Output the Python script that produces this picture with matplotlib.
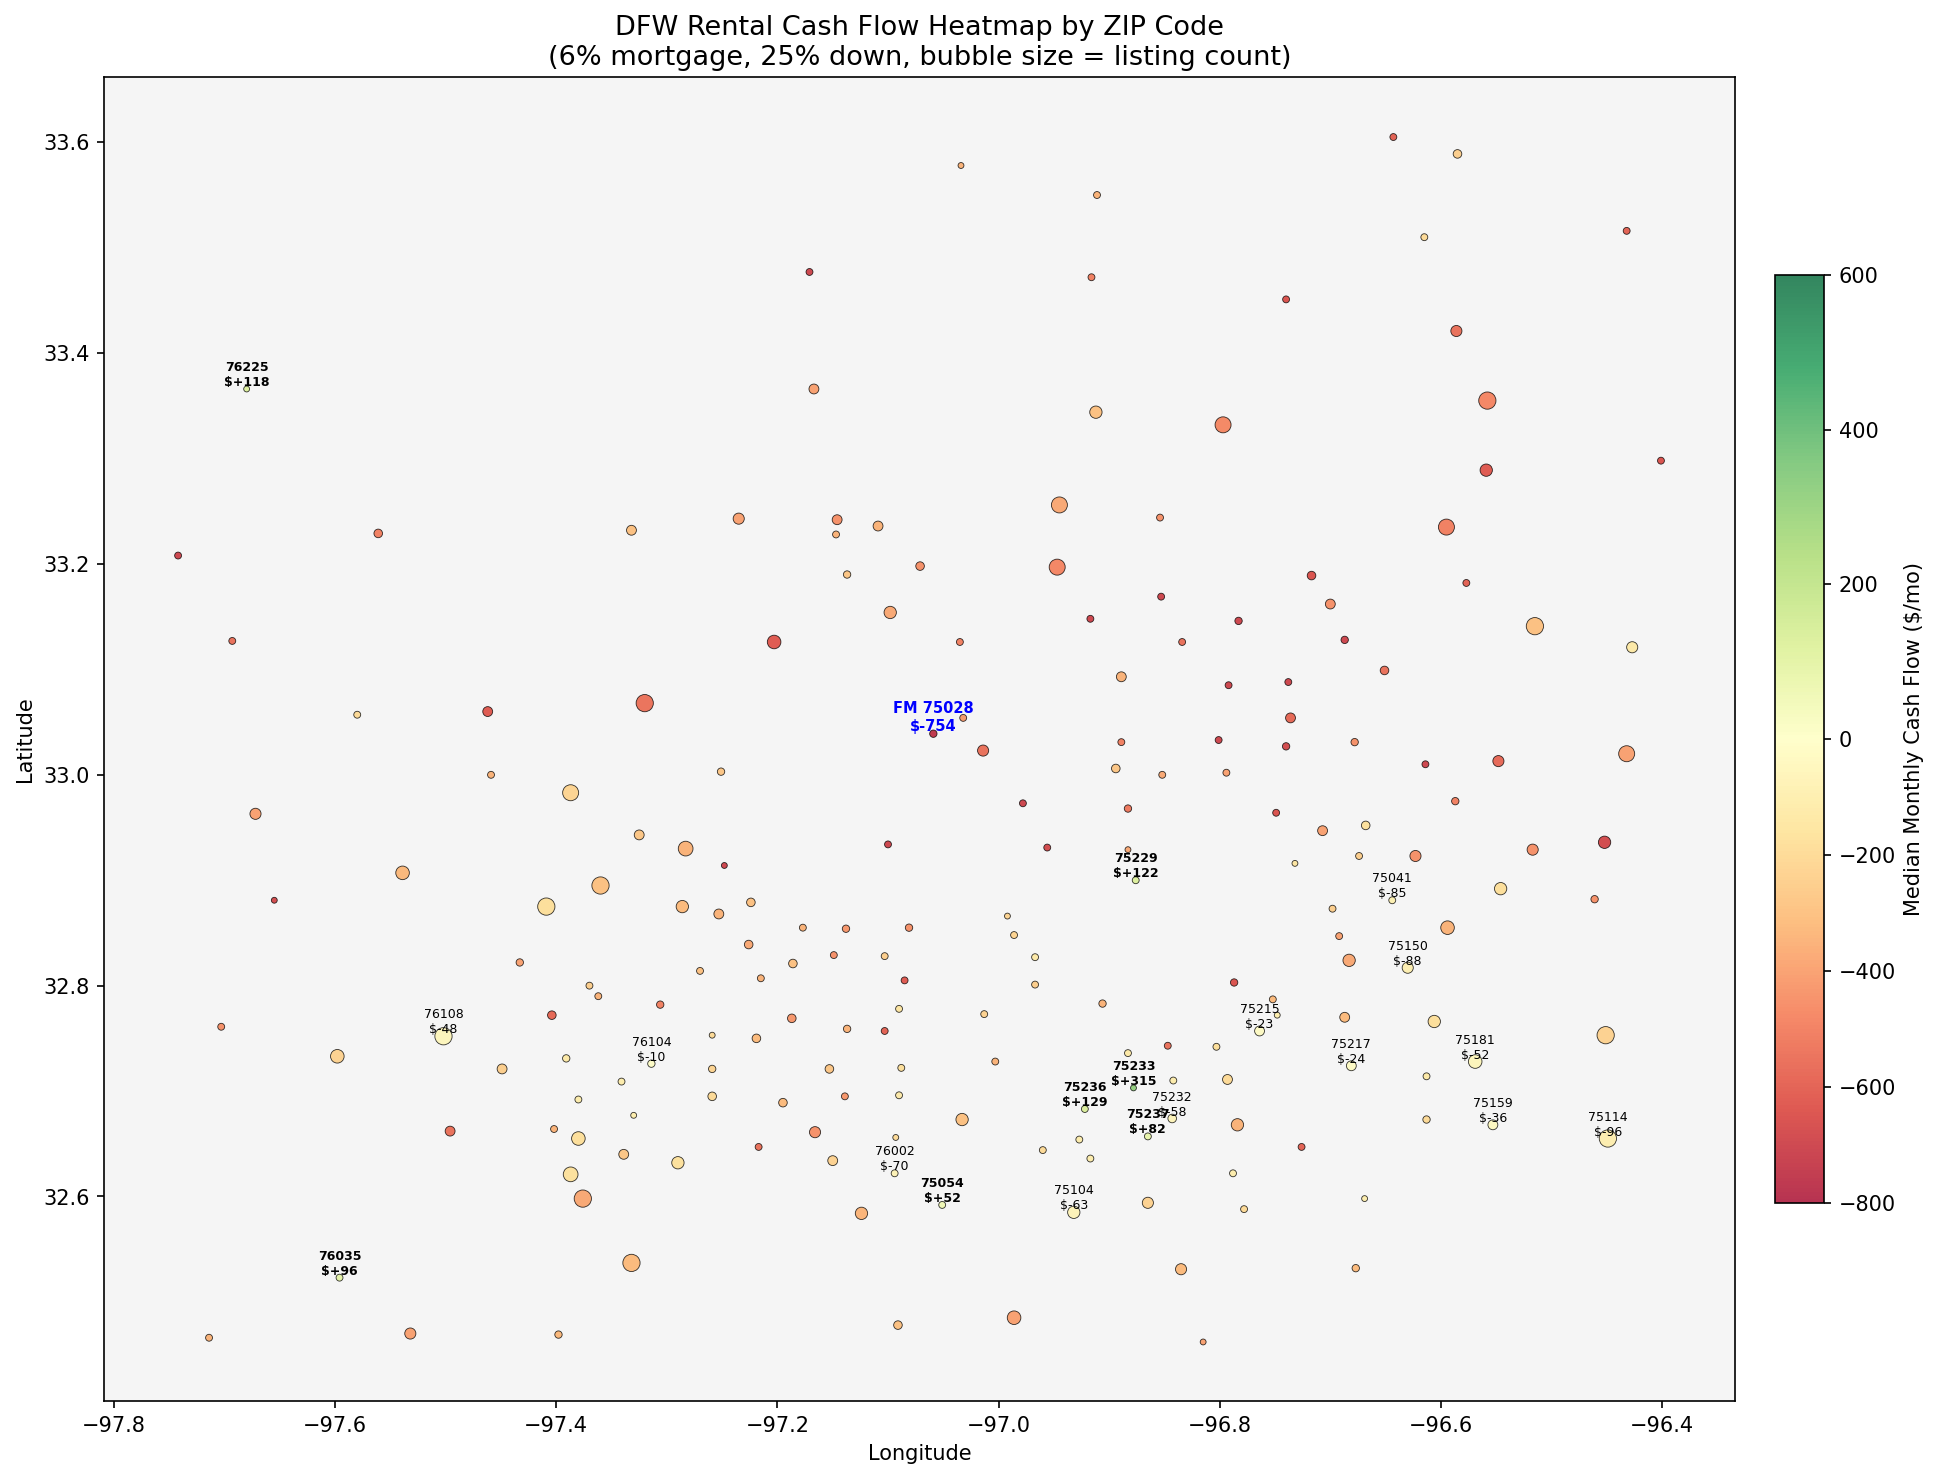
import matplotlib
matplotlib.use('Agg')
import matplotlib.pyplot as plt
from matplotlib.colors import TwoSlopeNorm

# values
lon = [-96.643,-96.585,-97.034,-96.911,-96.615,-96.432,-97.171,-96.916,-96.740,-96.586,
       -97.680,-97.167,-96.558,-96.912,-96.797,-96.401,-96.559,-96.945,-97.235,-97.146,
       -97.109,-96.854,-96.595,-97.561,-97.332,-97.147,-97.742,-97.071,-96.947,-97.137,
       -96.717,-96.577,-96.700,-96.853,-96.917,-97.098,-96.783,-96.515,-97.693,-97.203,
       -97.035,-96.834,-96.687,-96.427,-96.651,-96.889,-96.792,-96.738,-97.580,-97.462,
       -97.320,-96.736,-97.032,-97.059,-97.014,-96.740,-96.801,-96.889,-96.678,-96.548,
       -96.614,-96.432,-97.459,-97.251,-96.894,-96.852,-96.794,-97.387,-96.978,-96.587,
       -96.883,-96.749,-97.672,-96.668,-96.707,-97.325,-96.956,-96.883,-96.517,-96.452,
       -97.283,-97.100,-96.623,-96.674,-96.732,-97.248,-97.655,-97.539,-97.360,-96.876,
       -96.546,-96.461,-96.644,-97.409,-97.286,-97.224,-96.698,-97.253,-96.992,-96.594,
       -97.177,-97.138,-97.081,-96.986,-96.692,-97.226,-97.149,-97.103,-97.186,-96.967,
       -97.433,-96.683,-96.630,-97.270,-97.215,-97.085,-96.967,-96.787,-97.370,-97.362,
       -96.752,-97.306,-96.906,-97.090,-97.404,-97.013,-96.687,-97.187,-96.748,-96.606,
       -97.703,-97.502,-96.764,-96.451,-97.137,-97.103,-97.259,-97.219,-96.847,-96.803,
       -96.883,-97.598,-97.391,-97.003,-97.314,-96.681,-96.569,-97.088,-97.259,-97.153,
       -97.449,-96.613,-96.842,-96.793,-97.341,-96.878,-97.139,-97.259,-97.195,-97.380,
       -97.090,-96.922,-96.553,-97.330,-96.613,-97.033,-96.784,-96.843,-96.865,-97.496,
       -97.402,-97.380,-97.166,-97.093,-96.449,-96.927,-96.726,-97.217,-96.960,-96.917,
       -97.339,-97.150,-97.290,-97.387,-97.094,-96.788,-97.376,-96.669,-97.051,-96.865,
       -96.778,-96.932,-97.124,-97.596,-97.332,-96.835,-96.677,-96.986,-97.091,-97.532,
       -97.398,-97.714,-96.815]
lat = [33.605,33.589,33.578,33.550,33.510,33.516,33.477,33.472,33.451,33.421,
       33.366,33.366,33.355,33.344,33.332,33.298,33.289,33.256,33.243,33.242,
       33.236,33.244,33.235,33.229,33.232,33.228,33.208,33.198,33.197,33.190,
       33.189,33.182,33.162,33.169,33.148,33.154,33.146,33.141,33.127,33.126,
       33.126,33.126,33.128,33.121,33.099,33.093,33.085,33.088,33.057,33.060,
       33.068,33.054,33.054,33.039,33.023,33.027,33.033,33.031,33.031,33.013,
       33.010,33.020,33.000,33.003,33.006,33.000,33.002,32.983,32.973,32.975,
       32.968,32.964,32.963,32.952,32.947,32.943,32.931,32.929,32.929,32.936,
       32.930,32.934,32.923,32.923,32.916,32.914,32.881,32.907,32.895,32.900,
       32.892,32.882,32.881,32.875,32.875,32.879,32.873,32.868,32.866,32.855,
       32.855,32.854,32.855,32.848,32.847,32.839,32.829,32.828,32.821,32.827,
       32.822,32.824,32.817,32.814,32.807,32.805,32.801,32.803,32.800,32.790,
       32.787,32.782,32.783,32.778,32.772,32.773,32.770,32.769,32.772,32.766,
       32.761,32.752,32.757,32.753,32.759,32.757,32.753,32.750,32.743,32.742,
       32.736,32.733,32.731,32.728,32.726,32.724,32.728,32.722,32.721,32.721,
       32.721,32.714,32.710,32.711,32.709,32.703,32.695,32.695,32.689,32.692,
       32.696,32.683,32.668,32.677,32.673,32.673,32.668,32.674,32.657,32.662,
       32.664,32.655,32.661,32.656,32.655,32.654,32.647,32.647,32.644,32.636,
       32.640,32.634,32.632,32.621,32.622,32.622,32.598,32.598,32.592,32.594,
       32.588,32.585,32.584,32.523,32.537,32.531,32.532,32.485,32.478,32.470,
       32.469,32.466,32.462]
cash = [-600,-250,-350,-350,-200,-600,-700,-500,-650,-550,
        118,-400,-480,-300,-470,-650,-620,-380,-400,-450,
        -350,-450,-500,-500,-300,-350,-700,-450,-480,-280,
        -650,-600,-450,-700,-700,-380,-700,-300,-550,-620,
        -500,-550,-700,-130,-550,-350,-700,-700,-200,-620,
        -540,-580,-420,-754,-550,-680,-700,-500,-450,-570,
        -700,-400,-350,-280,-280,-380,-400,-220,-700,-500,
        -520,-650,-400,-170,-400,-280,-680,-380,-450,-680,
        -350,-700,-450,-250,-150,-700,-680,-330,-300,122,
        -180,-450,-85,-180,-320,-300,-250,-350,-220,-350,
        -350,-430,-450,-220,-400,-380,-450,-250,-300,-130,
        -400,-380,-88,-300,-350,-620,-250,-650,-250,-350,
        -320,-500,-350,-150,-580,-230,-320,-430,-105,-180,
        -450,-48,-23,-230,-350,-600,-200,-320,-550,-180,
        -130,-230,-130,-350,-10,-24,-52,-180,-220,-280,
        -250,-130,-110,-200,-110,315,-430,-200,-320,-110,
        -120,129,-36,-105,-200,-300,-350,-58,82,-550,
        -350,-180,-450,-200,-96,-110,-600,-550,-200,-110,
        -280,-230,-170,-170,-70,-110,-380,-105,52,-230,
        -200,-63,-340,96,-320,-320,-320,-400,-300,-400,
        -330,-350,-400]
listings = [22,34,16,22,22,22,22,22,22,57,
            16,45,137,70,118,22,70,118,57,45,
            45,22,118,34,45,22,22,34,118,25,
            34,22,45,22,22,70,25,137,22,85,
            22,22,25,57,34,45,22,22,22,45,
            137,45,22,25,57,25,22,22,25,57,
            22,118,22,25,34,22,22,118,22,25,
            25,22,57,34,45,45,22,16,57,70,
            100,22,57,22,16,16,16,85,137,22,
            70,25,22,137,70,34,22,45,16,85,
            22,25,25,22,22,34,22,22,34,22,
            25,70,57,22,22,22,22,25,22,22,
            22,25,25,22,34,22,45,34,16,70,
            22,137,45,137,25,22,16,34,22,22,
            22,85,25,22,25,45,85,22,25,34,
            45,22,22,45,22,16,22,34,34,22,
            22,22,45,16,25,70,70,34,22,45,
            22,85,57,16,137,22,22,22,22,22,
            45,45,70,100,22,22,137,16,22,57,
            22,70,70,22,137,57,25,85,34,57,
            25,22,16]

# ZIPs that carry a text label: positive ones bold, first one is Flower Mound
label_zip = ['75028','76225','75229','75233','75236','75237','75054','76035',
             '75041','75150','76108','75215','76104','75217','75181','75232',
             '75159','75114','76002','75104']
label_lon = [-97.059,-97.680,-96.876,-96.878,-96.922,-96.865,-97.051,-97.596,
             -96.644,-96.630,-97.502,-96.764,-97.314,-96.681,-96.569,-96.843,
             -96.553,-96.449,-97.094,-96.932]
label_lat = [33.039,33.366,32.900,32.703,32.683,32.657,32.592,32.523,
             32.881,32.817,32.752,32.757,32.726,32.724,32.728,32.674,
             32.668,32.655,32.622,32.585]
label_cash = [-754,118,122,315,129,82,52,96,
              -85,-88,-48,-23,-10,-24,-52,-58,
              -36,-96,-70,-63]

fig = plt.figure(figsize=(12.907, 9.867), dpi=150)
ax = fig.add_axes([104/1936, 1-1401/1480, (1735-104)/1936, (1401-77)/1480])
ax.set_facecolor('whitesmoke')

norm = TwoSlopeNorm(vmin=-800, vcenter=0, vmax=600)
sc = ax.scatter(lon, lat, c=cash, s=[n*0.5 for n in listings], cmap='RdYlGn',
                norm=norm, alpha=0.8, edgecolors='black', linewidths=0.4)

for z, x, y, v in zip(label_zip, label_lon, label_lat, label_cash):
    if z == '75028':
        ax.text(x, y, 'FM %s\n$%+d' % (z, v), fontsize=7, fontweight='bold', color='blue',
                ha='center', va='bottom')
    elif v > 0:
        ax.text(x, y, '%s\n$%+d' % (z, v), fontsize=6, fontweight='bold',
                ha='center', va='bottom')
    else:
        ax.text(x, y, '%s\n$%+d' % (z, v), fontsize=6, ha='center', va='bottom')

ax.set_xlim(-97.809, -96.334)
ax.set_ylim(32.406, 33.662)
ax.set_xlabel('Longitude')
ax.set_ylabel('Latitude')
ax.set_title('DFW Rental Cash Flow Heatmap by ZIP Code\n(6% mortgage, 25% down, bubble size = listing count)',
             fontsize=13)

cax = fig.add_axes([1775/1936, 1-1203/1480, 49/1936, (1203-275)/1480])
cb = fig.colorbar(sc, cax=cax, ticks=[-800, -600, -400, -200, 0, 200, 400, 600])
cb.set_label('Median Monthly Cash Flow ($/mo)')

fig.savefig('out.png', dpi=150)
